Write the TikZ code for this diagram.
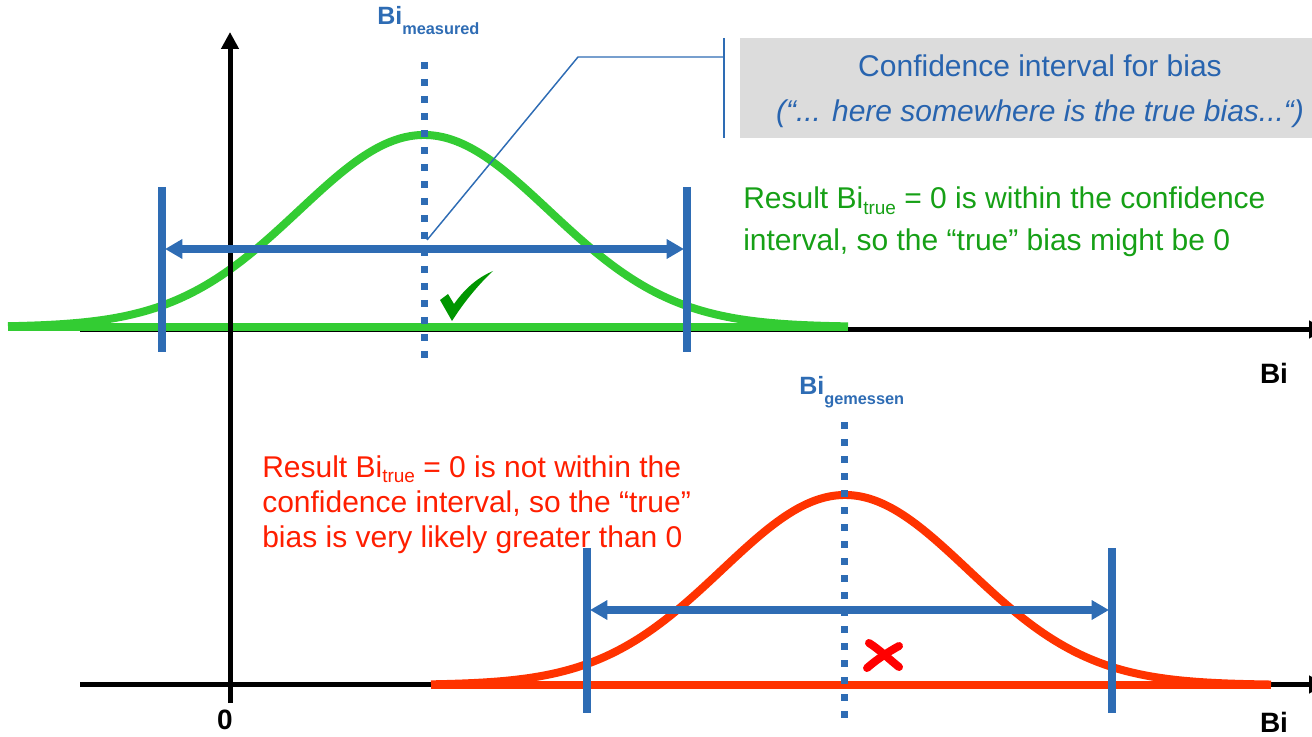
\documentclass[tikz,border=0pt]{standalone}
\usepackage{fontspec}
\setmainfont{Liberation Sans}
\usetikzlibrary{arrows.meta}
\definecolor{ablue}{RGB}{46,108,180}
\definecolor{tblue}{RGB}{40,100,175}
\definecolor{cgreen}{RGB}{51,204,51}
\definecolor{tgreen}{RGB}{22,160,22}
\definecolor{ckgreen}{RGB}{0,150,0}
\definecolor{cred}{RGB}{255,51,0}
\definecolor{tred}{RGB}{255,30,0}
\definecolor{boxgray}{RGB}{220,220,220}
\newcommand\mysub[1]{\raisebox{-4pt}{\fontsize{14.25pt}{16pt}\selectfont #1}}
\newcommand\bisub[1]{\raisebox{-7.5pt}{\fontsize{12.25pt}{14pt}\selectfont #1}}
\begin{document}
\begin{tikzpicture}[x=0.75pt,y=-0.75pt,
  axis/.style={line width=3.75pt, -{Triangle[length=12.75pt,width=12.75pt]}},
  bar/.style={ablue, line width=5.5pt},
  interval/.style={ablue, line width=5.5pt, {Triangle[length=13pt,width=14pt]}-{Triangle[length=13pt,width=14pt]}},
  dotline/.style={ablue, line width=5.25pt, dash pattern=on 5.25pt off 7.5pt},
  curve/.style={line width=6pt},
  base/.style={line width=6pt},
  txt/.style={font=\fontsize{22.5pt}{27pt}\selectfont, anchor=base west, inner sep=0pt},
  ctxt/.style={font=\fontsize{22.5pt}{27pt}\selectfont, anchor=base, inner sep=0pt, text=tblue},
  bilabel/.style={font=\bfseries\fontsize{18.75pt}{22pt}\selectfont, anchor=base west, inner sep=0pt, text=ablue},
  axlabel/.style={font=\bfseries\fontsize{21pt}{24pt}\selectfont, anchor=base, inner sep=0pt},
  callout/.style={ablue, line width=1.1pt}
]
\useasboundingbox (0,0) rectangle (1312,737);

% ---------- coordinates ----------
\coordinate (ax0) at (230,703);
\coordinate (axT) at (230,32);
\coordinate (h1s) at (80,329.5);
\coordinate (h1e) at (1326,329.5);
\coordinate (h2s) at (80,684.5);
\coordinate (h2e) at (1326,684.5);

% ---------- horizontal axes ----------
\draw[axis] (h1s) -- (h1e);
\draw[axis] (h2s) -- (h2e);

% ---------- top (green) distribution ----------
\coordinate (g1s) at (8,327);
\coordinate (g1e) at (848,327);
\draw[cgreen, base] (g1s) -- (g1e);
\draw[cgreen, curve, line join=round] plot[domain=8:848, samples=160, smooth] (\x, {327-192*exp(-0.5*((\x-424)/125)^2)});

% ---------- bottom (red) distribution ----------
\coordinate (r1s) at (431,685);
\coordinate (r1e) at (1271,685);
\draw[cred, base] (r1s) -- (r1e);
\draw[cred, curve, line join=round] plot[domain=431:1271, samples=160, smooth] (\x, {685-190*exp(-0.5*((\x-845)/123)^2)});

% ---------- vertical axis ----------
\draw[axis] (ax0) -- (axT);

% ---------- top confidence interval ----------
\coordinate (b1t) at (162,187);
\coordinate (b1b) at (162,352);
\coordinate (b2t) at (687,187);
\coordinate (b2b) at (687,352);
\draw[bar] (b1t) -- (b1b);
\draw[bar] (b2t) -- (b2b);
\coordinate (a1l) at (165,249);
\coordinate (a1r) at (684,249);
\draw[interval] (a1l) -- (a1r);
\coordinate (d1t) at (424,62);
\coordinate (d1b) at (424,362);
\draw[dotline] (d1t) -- (d1b);

% ---------- bottom confidence interval ----------
\coordinate (b3t) at (587,548);
\coordinate (b3b) at (587,713);
\coordinate (b4t) at (1112,548);
\coordinate (b4b) at (1112,713);
\draw[bar] (b3t) -- (b3b);
\draw[bar] (b4t) -- (b4b);
\coordinate (a2l) at (590,610);
\coordinate (a2r) at (1109,610);
\draw[interval] (a2l) -- (a2r);
\coordinate (d2t) at (844,422);
\coordinate (d2b) at (844,722);
\draw[dotline] (d2t) -- (d2b);

% ---------- callout ----------
\node[fill=boxgray, minimum width=429pt, minimum height=75pt, inner sep=0pt] (box) at (1026,88) {};
\node[ctxt] (ct1) at (1040,77) {Confidence interval for bias};
\node[ctxt] (ct2) at (1040,122) {\itshape (“... here somewhere is the true bias...“)};
\coordinate (cvT) at (724,38);
\coordinate (cvB) at (724,138);
\coordinate (cvM) at (724,57);
\coordinate (ck) at (578,57);
\coordinate (cend) at (427,240);
\draw[callout] (cvT) -- (cvB);
\draw[callout] (cvM) -- (ck) -- (cend);

% ---------- labels ----------
\node[bilabel] (bim) at (377,25) {Bi\bisub{measured}};
\node[bilabel] (big) at (799,395) {Bi\bisub{gemessen}};
\node[axlabel] (zero) at (225,729) {0};
\node[axlabel] (bi1) at (1274,383) {Bi};
\node[axlabel] (bi2) at (1274,732) {Bi};

\node[txt, text=tgreen] (gt1) at (743,209) {Result Bi\mysub{true} = 0 is within the confidence};
\node[txt, text=tgreen] (gt2) at (743,251) {interval, so the “true” bias might be 0};

\node[txt, text=tred] (rt1) at (262,477) {Result Bi\mysub{true} = 0 is not within the};
\node[txt, text=tred] (rt2) at (262,512) {confidence interval, so the “true”};
\node[txt, text=tred] (rt3) at (262,547) {bias is very likely greater than 0};

% ---------- check mark ----------
\fill[ckgreen] (440,300) -- (448,294) -- (454,304)
  .. controls (466,287) and (479,277) .. (493,271)
  .. controls (479,284) and (464,302) .. (452,321) -- cycle;

% ---------- cross ----------
\draw[red, line width=6pt, line cap=round] (869,643) .. controls (880,650) and (890,660) .. (899,667);
\draw[red, line width=6pt, line cap=round] (899,646) .. controls (888,652) and (876,660) .. (867,668);
\end{tikzpicture}
\end{document}
